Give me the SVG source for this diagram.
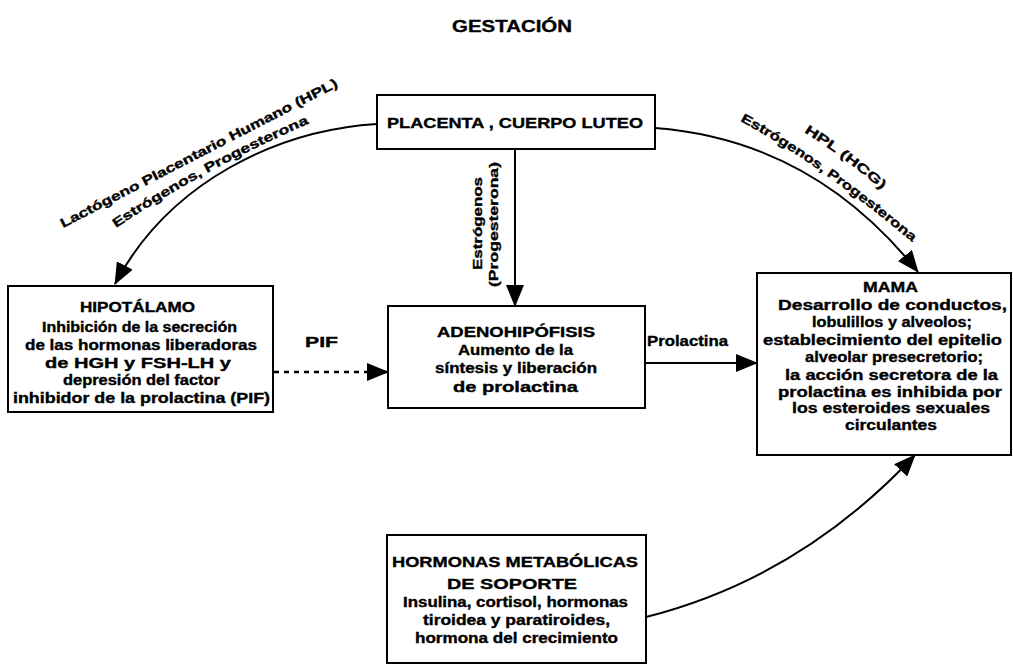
<svg xmlns="http://www.w3.org/2000/svg" width="1013" height="666" viewBox="0 0 1013 666">
<style>
.box{fill:#fff;stroke:#000;stroke-width:2}
.t{font-family:"Liberation Sans",Arial,sans-serif;font-weight:bold;font-size:14px;fill:#000;stroke:#000;stroke-width:0.35}
.h{font-size:15px}
.s{font-size:13px}
.conn{fill:none;stroke:#000;stroke-width:2}
.dot{stroke-dasharray:5 5;stroke-width:2.5}
</style>
<defs>
<marker id="ah" markerWidth="22" markerHeight="18" refX="21" refY="9" orient="auto" markerUnits="userSpaceOnUse"><path d="M0,0 L22,9 L0,18 z" fill="#000"/></marker>
<path id="pl1" d="M63,228 Q193,161 339,86"/>
<path id="pl2" d="M116,228 Q202,170 310,123"/>
<path id="pr1" d="M804,132 Q844,157 883,191"/>
<path id="pr2" d="M740,121 Q815,161 911,241"/>
</defs>
<rect width="1013" height="666" fill="#fff"/>
<text class="t" x="452" y="32" style="font-size:17px" textLength="120" lengthAdjust="spacingAndGlyphs">GESTACIÓN</text>

<g id="connectors">
<path class="conn" d="M377,124 C280,130 170,180 115,284" marker-end="url(#ah)"/>
<path class="conn" d="M655,128 Q813,140 918,272" marker-end="url(#ah)"/>
<path class="conn" d="M515,149 L515,306" marker-end="url(#ah)"/>
<path class="conn dot" d="M274,372 L388,372" marker-end="url(#ah)"/>
<path class="conn" d="M645,363 L757,363" marker-end="url(#ah)"/>
<path class="conn" d="M646,617 Q800,578 915,455" marker-end="url(#ah)"/>
<text class="t s"><textPath href="#pl1" textLength="310" lengthAdjust="spacingAndGlyphs">Lactógeno Placentario Humano (HPL)</textPath></text>
<text class="t s"><textPath href="#pl2" textLength="220" lengthAdjust="spacingAndGlyphs">Estrógenos, Progesterona</textPath></text>
<text class="t s"><textPath href="#pr1" textLength="97" lengthAdjust="spacingAndGlyphs">HPL (HCG)</textPath></text>
<text class="t s"><textPath href="#pr2" textLength="211" lengthAdjust="spacingAndGlyphs">Estrógenos, Progesterona</textPath></text>
<text class="t s" transform="translate(482,270) rotate(-90)" textLength="93" lengthAdjust="spacingAndGlyphs">Estrógenos</text>
<text class="t s" transform="translate(498,287) rotate(-90)" textLength="125" lengthAdjust="spacingAndGlyphs">(Progesterona)</text>
<text class="t" x="305" y="347" textLength="33" lengthAdjust="spacingAndGlyphs">PIF</text>
<text class="t" x="647" y="346" textLength="81" lengthAdjust="spacingAndGlyphs">Prolactina</text>
</g>

<g id="placenta">
<rect class="box" x="377" y="95" width="278" height="54"/>
<text class="t h" x="387" y="128" textLength="256" lengthAdjust="spacingAndGlyphs">PLACENTA , CUERPO LUTEO</text>
</g>

<g id="hipotalamo">
<rect class="box" x="8" y="286" width="265" height="126"/>
<text class="t" x="80" y="312" textLength="115" lengthAdjust="spacingAndGlyphs">HIPOTÁLAMO</text>
<text class="t" x="42" y="332" textLength="195" lengthAdjust="spacingAndGlyphs">Inhibición de la secreción</text>
<text class="t" x="25" y="350" textLength="232" lengthAdjust="spacingAndGlyphs">de las hormonas liberadoras</text>
<text class="t" x="45" y="368" textLength="186" lengthAdjust="spacingAndGlyphs">de HGH y FSH-LH y</text>
<text class="t" x="63" y="385" textLength="157" lengthAdjust="spacingAndGlyphs">depresión del factor</text>
<text class="t" x="13" y="403" textLength="257" lengthAdjust="spacingAndGlyphs">inhibidor de la prolactina (PIF)</text>
</g>

<g id="adenohipofisis">
<rect class="box" x="388" y="306" width="257" height="102"/>
<text class="t" x="437" y="337" textLength="158" lengthAdjust="spacingAndGlyphs">ADENOHIPÓFISIS</text>
<text class="t" x="458" y="355" textLength="115" lengthAdjust="spacingAndGlyphs">Aumento de la</text>
<text class="t" x="435" y="373" textLength="162" lengthAdjust="spacingAndGlyphs">síntesis y liberación</text>
<text class="t" x="453" y="392" textLength="125" lengthAdjust="spacingAndGlyphs">de prolactina</text>
</g>

<g id="mama">
<rect class="box" x="757" y="273" width="254" height="182"/>
<text class="t" x="863" y="292" textLength="55" lengthAdjust="spacingAndGlyphs">MAMA</text>
<text class="t" x="778" y="310" textLength="229" lengthAdjust="spacingAndGlyphs">Desarrollo de conductos,</text>
<text class="t" x="812" y="327" textLength="160" lengthAdjust="spacingAndGlyphs">lobulillos y alveolos;</text>
<text class="t" x="763" y="345" textLength="239" lengthAdjust="spacingAndGlyphs">establecimiento del epitelio</text>
<text class="t" x="805" y="362" textLength="178" lengthAdjust="spacingAndGlyphs">alveolar presecretorio;</text>
<text class="t" x="785" y="380" textLength="213" lengthAdjust="spacingAndGlyphs">la acción secretora de la</text>
<text class="t" x="778" y="397" textLength="224" lengthAdjust="spacingAndGlyphs">prolactina es inhibida por</text>
<text class="t" x="792" y="413" textLength="198" lengthAdjust="spacingAndGlyphs">los esteroides sexuales</text>
<text class="t" x="845" y="430" textLength="92" lengthAdjust="spacingAndGlyphs">circulantes</text>
</g>

<g id="hormonas">
<rect class="box" x="387" y="535" width="259" height="128"/>
<text class="t h" x="392" y="567" textLength="246" lengthAdjust="spacingAndGlyphs">HORMONAS METABÓLICAS</text>
<text class="t h" x="447" y="589" textLength="130" lengthAdjust="spacingAndGlyphs">DE SOPORTE</text>
<text class="t" x="403" y="607" textLength="225" lengthAdjust="spacingAndGlyphs">Insulina, cortisol, hormonas</text>
<text class="t" x="423" y="625" textLength="187" lengthAdjust="spacingAndGlyphs">tiroidea y paratiroides,</text>
<text class="t" x="415" y="643" textLength="203" lengthAdjust="spacingAndGlyphs">hormona del crecimiento</text>
</g>
</svg>
